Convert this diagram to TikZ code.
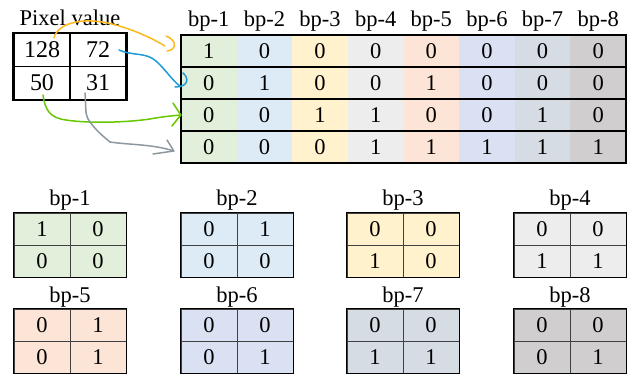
\documentclass[tikz,border=0pt]{standalone}
\usepackage{fontspec}
\setmainfont{Liberation Serif}
\usetikzlibrary{calc}
\definecolor{c1}{HTML}{E2EFDA}
\definecolor{c2}{HTML}{DDEBF7}
\definecolor{c3}{HTML}{FFF2CC}
\definecolor{c4}{HTML}{EDEDED}
\definecolor{c5}{HTML}{FCE4D6}
\definecolor{c6}{HTML}{D9E1F2}
\definecolor{c7}{HTML}{D6DCE4}
\definecolor{c8}{HTML}{D0CECE}
\definecolor{aorange}{HTML}{FFB81C}
\definecolor{ablue}{HTML}{1E9BD7}
\definecolor{agreen}{HTML}{66C800}
\definecolor{agray}{HTML}{8E999F}
\begin{document}
\begin{tikzpicture}[x=1pt,y=-1pt,
  txt/.style={font=\fontsize{22.5}{22.5}\selectfont, inner sep=0pt},
  cell/.style={txt, minimum width=55.6pt, minimum height=32pt, anchor=center},
  pcell/.style={txt, font=\fontsize{24}{24}\selectfont, minimum width=56pt, minimum height=33pt, draw=black, line width=1.6pt},
  scell/.style={txt, minimum width=56pt, minimum height=32pt, draw=black!75, line width=0.8pt},
  heavy/.style={line width=1.8pt, draw=black},
  hand/.style={line width=1.5pt, line cap=round, line join=round}
]
\useasboundingbox (0,0) rectangle (632,374);

% ---- pixel value table ----
\node[txt, anchor=base] (plabel) at (70,26) {Pixel value};
\node[pcell] (p11) at (42,50) {128};
\node[pcell] (p12) at (98,50) {72};
\node[pcell] (p21) at (42,83) {50};
\node[pcell] (p22) at (98,83) {31};
\draw[heavy] (p11.north west) rectangle (p22.south east);

% ---- big bit-plane table ----
\foreach \c/\col in {1/c1,2/c2,3/c3,4/c4,5/c5,6/c6,7/c7,8/c8}{
  \pgfmathsetmacro{\cx}{181+55.625*(\c-0.5)}
  \node[txt, anchor=base] (h\c) at (\cx,27) {bp-\c};
  \fill[\col] ({181+55.625*(\c-1)},35) rectangle ({181+55.625*\c},163);
}
\foreach \r/\va/\vb/\vc/\vd/\ve/\vf/\vg/\vh in {1/1/0/0/0/0/0/0/0, 2/0/1/0/0/1/0/0/0, 3/0/0/1/1/0/0/1/0, 4/0/0/0/1/1/1/1/1}{
  \pgfmathsetmacro{\ry}{35+32*(\r-0.5)}
  \foreach \c/\v in {1/\va,2/\vb,3/\vc,4/\vd,5/\ve,6/\vf,7/\vg,8/\vh}{
    \pgfmathsetmacro{\cx}{181+55.625*(\c-0.5)}
    \node[cell] (b\r-\c) at (\cx,\ry) {\v};
  }
}
\foreach \r in {1,2,3}{
  \draw[heavy] (b\r-1.south west) -- (b\r-8.south east);
}
\draw[heavy] (b1-1.north west) rectangle (b4-8.south east);

% ---- small bit-plane tables ----
\foreach \k/\col/\a/\b/\cc/\d in {1/c1/1/0/0/0, 2/c2/0/1/0/0, 3/c3/0/0/1/0, 4/c4/0/0/1/1,
                                   5/c5/0/1/0/1, 6/c6/0/0/0/1, 7/c7/0/0/1/1, 8/c8/0/0/0/1}{
  \pgfmathtruncatemacro{\ci}{mod(\k-1,4)}
  \pgfmathtruncatemacro{\ri}{int((\k-1)/4)}
  \pgfmathsetmacro{\lx}{\ci==0 ? 14 : (\ci==1 ? 181 : (\ci==2 ? 347 : 514))}
  \pgfmathsetmacro{\ty}{213+96*\ri}
  \node[txt, anchor=base] (sl\k) at (\lx+56,\ty-7) {bp-\k};
  \node[scell, fill=\col] (s\k-1) at (\lx+28,\ty+16) {\a};
  \node[scell, fill=\col] (s\k-2) at (\lx+84,\ty+16) {\b};
  \node[scell, fill=\col] (s\k-3) at (\lx+28,\ty+48) {\cc};
  \node[scell, fill=\col] (s\k-4) at (\lx+84,\ty+48) {\d};
  \draw[line width=1.6pt] (s\k-1.north west) rectangle (s\k-4.south east);
}

% ---- hand-drawn arrows ----
\coordinate (oe) at ($(b1-1.west)+(-16,-5)$);
\draw[hand, aorange] ($(p11.center)+(12,-12)$) .. controls (58,22) and (85,17) .. (112,24)
   .. controls (132,29) and (152,38) .. (oe);
\draw[hand, aorange] (166,36) .. controls (177,40) and (177,50) .. (167,51);

\coordinate (be) at ($(b2-1.west)+(-1,3)$);
\draw[hand, ablue] ($(p12.center)+(21,0)$) .. controls (132,56) and (146,52) .. (156,61)
   .. controls (165,69) and (172,80) .. (be);
\draw[hand, ablue] (183,73) .. controls (189,78) and (189,87) .. (175,87);

\coordinate (ge) at (b3-1.west);
\draw[hand, agreen] ($(p21.center)+(1,12)$) .. controls (45,110) and (50,118) .. (66,120)
   .. controls (92,124) and (130,122) .. (150,119) .. controls (160,117) and (170,116) .. (ge);
\draw[hand, agreen] (173,103) -- (ge) -- (172,126);

\coordinate (ye) at ($(b4-1.west)+(-7,4)$);
\draw[hand, agray] ($(p22.center)+(-13,10)$) .. controls (86,105) and (85,114) .. (88,119)
   .. controls (95,130) and (104,137) .. (110,142) .. controls (130,145) and (152,144) .. (ye);
\draw[hand, agray] (167,140) -- (ye) -- (153,154);
\end{tikzpicture}
\end{document}
